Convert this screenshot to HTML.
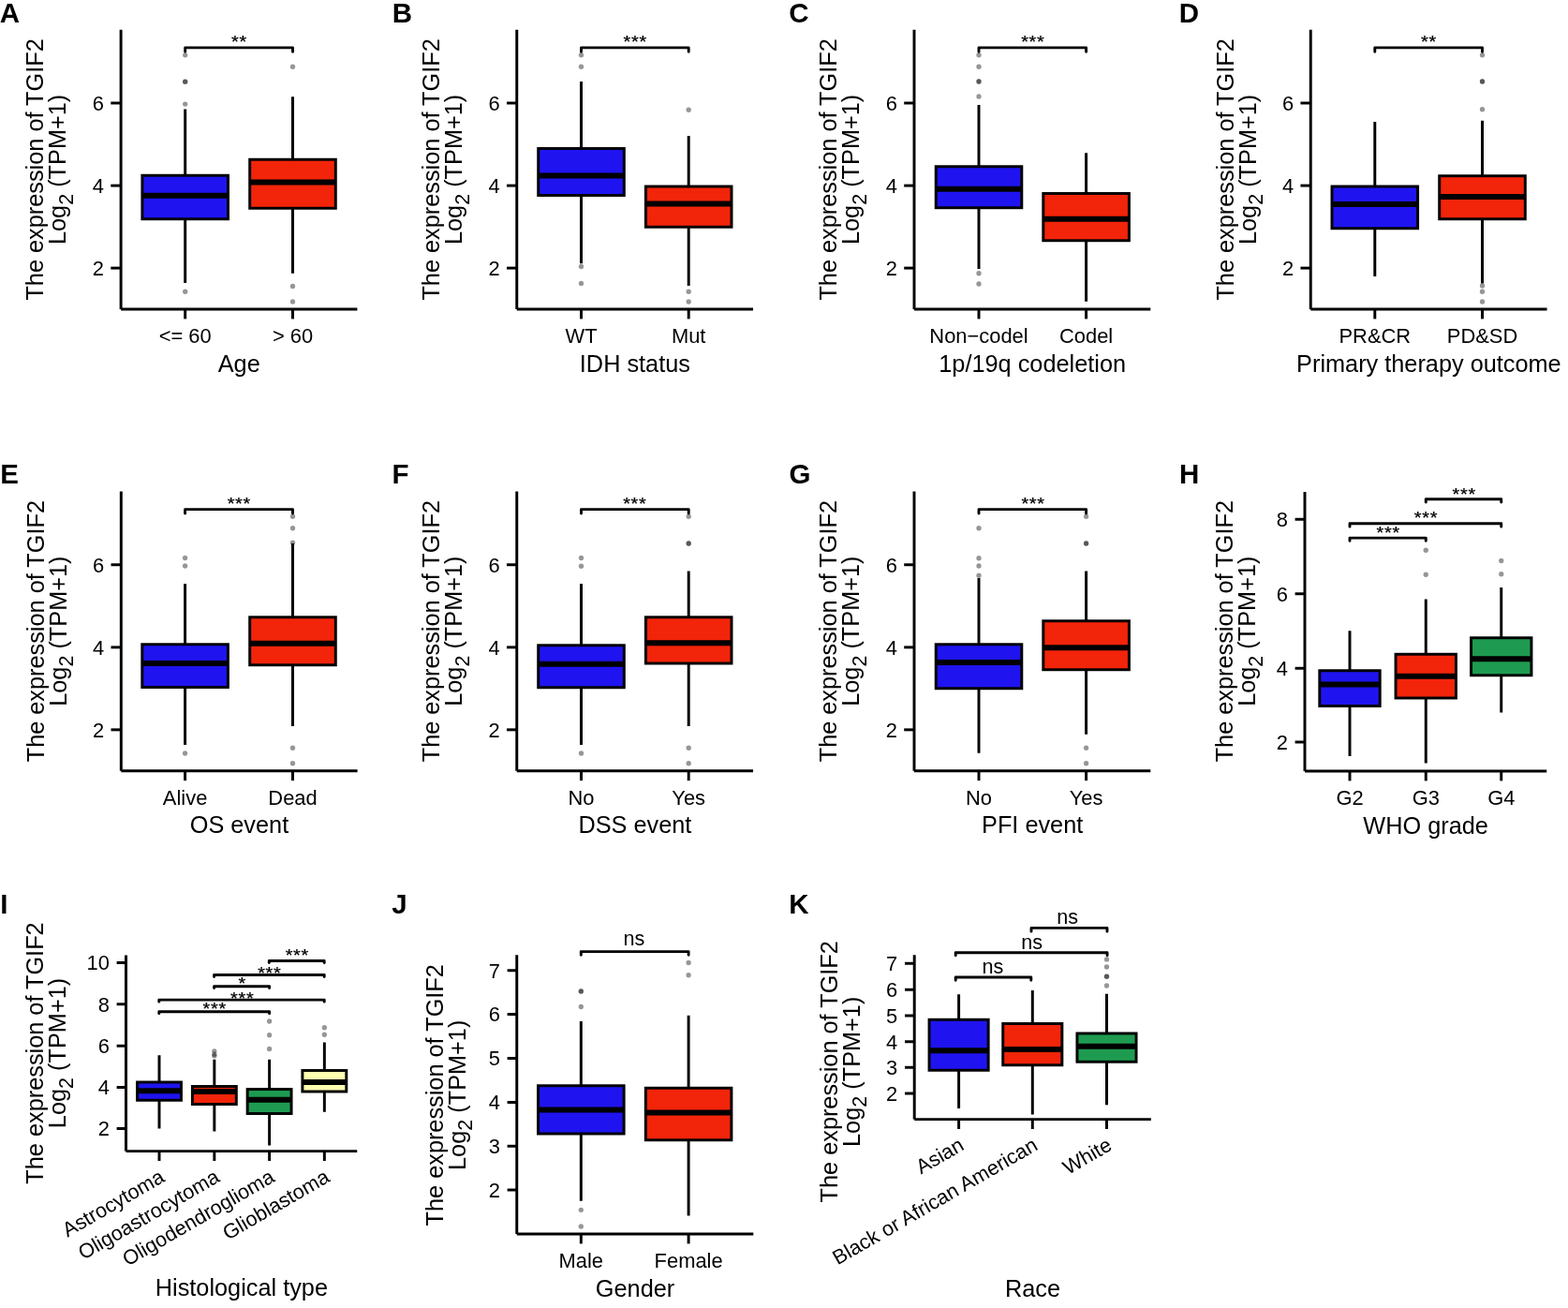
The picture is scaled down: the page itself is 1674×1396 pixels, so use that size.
<!DOCTYPE html>
<html><head><meta charset="utf-8"><title>TGIF2 expression boxplots</title>
<style>
html,body{margin:0;padding:0;background:#fff;}
body{width:1674px;height:1396px;overflow:hidden;}
svg{display:block;}
text{font-family:"Liberation Sans", Arial, Helvetica, sans-serif;fill:#000;}
</style></head>
<body>
<svg width="1674" height="1396" viewBox="0 0 1674 1396">
<rect x="0" y="0" width="1674" height="1396" fill="#fff"/>
<text x="-0.30" y="23.80" font-size="29.5" text-anchor="start" font-weight="bold">A</text>
<line x1="129.10" y1="31.75" x2="129.10" y2="330.00" stroke="#000" stroke-width="2.95" stroke-linecap="butt"/>
<line x1="129.10" y1="330.00" x2="381.40" y2="330.00" stroke="#000" stroke-width="2.95" stroke-linecap="butt"/>
<line x1="118.30" y1="110.00" x2="129.10" y2="110.00" stroke="#000" stroke-width="2.95" stroke-linecap="butt"/>
<text x="111.00" y="117.90" font-size="21.9" text-anchor="end">6</text>
<line x1="118.30" y1="198.10" x2="129.10" y2="198.10" stroke="#000" stroke-width="2.95" stroke-linecap="butt"/>
<text x="111.00" y="206.00" font-size="21.9" text-anchor="end">4</text>
<line x1="118.30" y1="286.10" x2="129.10" y2="286.10" stroke="#000" stroke-width="2.95" stroke-linecap="butt"/>
<text x="111.00" y="294.00" font-size="21.9" text-anchor="end">2</text>
<line x1="197.70" y1="330.00" x2="197.70" y2="340.40" stroke="#000" stroke-width="2.95" stroke-linecap="butt"/>
<line x1="312.50" y1="330.00" x2="312.50" y2="340.40" stroke="#000" stroke-width="2.95" stroke-linecap="butt"/>
<text x="197.70" y="366.00" font-size="21.9" text-anchor="middle">&lt;= 60</text>
<text x="312.50" y="366.00" font-size="21.9" text-anchor="middle">&gt; 60</text>
<text x="255.25" y="396.50" font-size="25.3" text-anchor="middle">Age</text>
<text transform="translate(46.40,180.93) rotate(-90)" x="0" y="0" font-size="25.3" text-anchor="middle">The expression of TGIF2</text>
<text transform="translate(70.35,180.93) rotate(-90)" x="0" y="0" font-size="25.3" text-anchor="middle">Log<tspan font-size="21.5" dy="7.5">2</tspan><tspan dy="-7.5"> (TPM+1)</tspan></text>
<line x1="197.70" y1="116.50" x2="197.70" y2="187.25" stroke="#000" stroke-width="2.95" stroke-linecap="butt"/>
<line x1="197.70" y1="233.75" x2="197.70" y2="302.00" stroke="#000" stroke-width="2.95" stroke-linecap="butt"/>
<rect x="151.90" y="187.25" width="91.60" height="46.50" fill="#1F14EF" stroke="#000" stroke-width="2.95"/>
<line x1="151.90" y1="208.75" x2="243.50" y2="208.75" stroke="#000" stroke-width="5.8" stroke-linecap="butt"/>
<circle cx="197.70" cy="58.80" r="2.65" fill="#000" fill-opacity="0.41"/>
<circle cx="197.70" cy="87.20" r="2.65" fill="#000" fill-opacity="0.41"/>
<circle cx="197.70" cy="87.20" r="2.65" fill="#000" fill-opacity="0.41"/>
<circle cx="197.70" cy="111.10" r="2.65" fill="#000" fill-opacity="0.41"/>
<circle cx="197.70" cy="311.25" r="2.65" fill="#000" fill-opacity="0.41"/>
<line x1="312.50" y1="103.25" x2="312.50" y2="170.25" stroke="#000" stroke-width="2.95" stroke-linecap="butt"/>
<line x1="312.50" y1="222.25" x2="312.50" y2="291.75" stroke="#000" stroke-width="2.95" stroke-linecap="butt"/>
<rect x="266.70" y="170.25" width="91.60" height="52.00" fill="#F2240A" stroke="#000" stroke-width="2.95"/>
<line x1="266.70" y1="194.50" x2="358.30" y2="194.50" stroke="#000" stroke-width="5.8" stroke-linecap="butt"/>
<circle cx="312.50" cy="71.25" r="2.65" fill="#000" fill-opacity="0.41"/>
<circle cx="312.50" cy="305.50" r="2.65" fill="#000" fill-opacity="0.41"/>
<circle cx="312.50" cy="322.00" r="2.65" fill="#000" fill-opacity="0.41"/>
<path d="M197.70,55.35 L197.70,50.90 L312.50,50.90 L312.50,55.35" fill="none" stroke="#000" stroke-width="2.9" stroke-linejoin="round" stroke-linecap="round"/>
<text x="0" y="11.04" font-size="20.0" text-anchor="middle" stroke="#000" stroke-width="0.25" stroke-linejoin="round" letter-spacing="0.7" transform="translate(255.45,41.60) scale(1,0.88)">**</text>
<text x="418.85" y="23.80" font-size="29.5" text-anchor="start" font-weight="bold">B</text>
<line x1="551.75" y1="31.75" x2="551.75" y2="330.00" stroke="#000" stroke-width="2.95" stroke-linecap="butt"/>
<line x1="551.75" y1="330.00" x2="804.05" y2="330.00" stroke="#000" stroke-width="2.95" stroke-linecap="butt"/>
<line x1="540.95" y1="110.00" x2="551.75" y2="110.00" stroke="#000" stroke-width="2.95" stroke-linecap="butt"/>
<text x="533.65" y="117.90" font-size="21.9" text-anchor="end">6</text>
<line x1="540.95" y1="198.10" x2="551.75" y2="198.10" stroke="#000" stroke-width="2.95" stroke-linecap="butt"/>
<text x="533.65" y="206.00" font-size="21.9" text-anchor="end">4</text>
<line x1="540.95" y1="286.10" x2="551.75" y2="286.10" stroke="#000" stroke-width="2.95" stroke-linecap="butt"/>
<text x="533.65" y="294.00" font-size="21.9" text-anchor="end">2</text>
<line x1="620.50" y1="330.00" x2="620.50" y2="340.40" stroke="#000" stroke-width="2.95" stroke-linecap="butt"/>
<line x1="735.20" y1="330.00" x2="735.20" y2="340.40" stroke="#000" stroke-width="2.95" stroke-linecap="butt"/>
<text x="620.50" y="366.00" font-size="21.9" text-anchor="middle">WT</text>
<text x="735.20" y="366.00" font-size="21.9" text-anchor="middle">Mut</text>
<text x="677.90" y="396.50" font-size="25.3" text-anchor="middle">IDH status</text>
<text transform="translate(469.05,180.93) rotate(-90)" x="0" y="0" font-size="25.3" text-anchor="middle">The expression of TGIF2</text>
<text transform="translate(493.00,180.93) rotate(-90)" x="0" y="0" font-size="25.3" text-anchor="middle">Log<tspan font-size="21.5" dy="7.5">2</tspan><tspan dy="-7.5"> (TPM+1)</tspan></text>
<line x1="620.50" y1="87.00" x2="620.50" y2="158.50" stroke="#000" stroke-width="2.95" stroke-linecap="butt"/>
<line x1="620.50" y1="208.50" x2="620.50" y2="281.25" stroke="#000" stroke-width="2.95" stroke-linecap="butt"/>
<rect x="574.70" y="158.50" width="91.60" height="50.00" fill="#1F14EF" stroke="#000" stroke-width="2.95"/>
<line x1="574.70" y1="187.50" x2="666.30" y2="187.50" stroke="#000" stroke-width="5.8" stroke-linecap="butt"/>
<circle cx="620.50" cy="58.75" r="2.65" fill="#000" fill-opacity="0.41"/>
<circle cx="620.50" cy="71.25" r="2.65" fill="#000" fill-opacity="0.41"/>
<circle cx="620.50" cy="284.50" r="2.65" fill="#000" fill-opacity="0.41"/>
<circle cx="620.50" cy="302.50" r="2.65" fill="#000" fill-opacity="0.41"/>
<line x1="735.20" y1="145.00" x2="735.20" y2="199.00" stroke="#000" stroke-width="2.95" stroke-linecap="butt"/>
<line x1="735.20" y1="242.25" x2="735.20" y2="305.00" stroke="#000" stroke-width="2.95" stroke-linecap="butt"/>
<rect x="689.40" y="199.00" width="91.60" height="43.25" fill="#F2240A" stroke="#000" stroke-width="2.95"/>
<line x1="689.40" y1="217.50" x2="781.00" y2="217.50" stroke="#000" stroke-width="5.8" stroke-linecap="butt"/>
<circle cx="735.20" cy="117.25" r="2.65" fill="#000" fill-opacity="0.41"/>
<circle cx="735.20" cy="311.25" r="2.65" fill="#000" fill-opacity="0.41"/>
<circle cx="735.20" cy="322.00" r="2.65" fill="#000" fill-opacity="0.41"/>
<path d="M620.50,55.35 L620.50,50.90 L735.20,50.90 L735.20,55.35" fill="none" stroke="#000" stroke-width="2.9" stroke-linejoin="round" stroke-linecap="round"/>
<text x="0" y="11.04" font-size="20.0" text-anchor="middle" stroke="#000" stroke-width="0.25" stroke-linejoin="round" letter-spacing="0.7" transform="translate(678.15,41.60) scale(1,0.88)">***</text>
<text x="842.35" y="23.80" font-size="29.5" text-anchor="start" font-weight="bold">C</text>
<line x1="976.00" y1="31.75" x2="976.00" y2="330.00" stroke="#000" stroke-width="2.95" stroke-linecap="butt"/>
<line x1="976.00" y1="330.00" x2="1228.30" y2="330.00" stroke="#000" stroke-width="2.95" stroke-linecap="butt"/>
<line x1="965.20" y1="110.00" x2="976.00" y2="110.00" stroke="#000" stroke-width="2.95" stroke-linecap="butt"/>
<text x="957.90" y="117.90" font-size="21.9" text-anchor="end">6</text>
<line x1="965.20" y1="198.10" x2="976.00" y2="198.10" stroke="#000" stroke-width="2.95" stroke-linecap="butt"/>
<text x="957.90" y="206.00" font-size="21.9" text-anchor="end">4</text>
<line x1="965.20" y1="286.10" x2="976.00" y2="286.10" stroke="#000" stroke-width="2.95" stroke-linecap="butt"/>
<text x="957.90" y="294.00" font-size="21.9" text-anchor="end">2</text>
<line x1="1045.00" y1="330.00" x2="1045.00" y2="340.40" stroke="#000" stroke-width="2.95" stroke-linecap="butt"/>
<line x1="1159.60" y1="330.00" x2="1159.60" y2="340.40" stroke="#000" stroke-width="2.95" stroke-linecap="butt"/>
<text x="1045.00" y="366.00" font-size="21.9" text-anchor="middle">Non−codel</text>
<text x="1159.60" y="366.00" font-size="21.9" text-anchor="middle">Codel</text>
<text x="1102.15" y="396.50" font-size="25.3" text-anchor="middle">1p/19q codeletion</text>
<text transform="translate(893.30,180.93) rotate(-90)" x="0" y="0" font-size="25.3" text-anchor="middle">The expression of TGIF2</text>
<text transform="translate(917.25,180.93) rotate(-90)" x="0" y="0" font-size="25.3" text-anchor="middle">Log<tspan font-size="21.5" dy="7.5">2</tspan><tspan dy="-7.5"> (TPM+1)</tspan></text>
<line x1="1045.00" y1="112.00" x2="1045.00" y2="177.75" stroke="#000" stroke-width="2.95" stroke-linecap="butt"/>
<line x1="1045.00" y1="221.75" x2="1045.00" y2="287.00" stroke="#000" stroke-width="2.95" stroke-linecap="butt"/>
<rect x="999.20" y="177.75" width="91.60" height="44.00" fill="#1F14EF" stroke="#000" stroke-width="2.95"/>
<line x1="999.20" y1="201.75" x2="1090.80" y2="201.75" stroke="#000" stroke-width="5.8" stroke-linecap="butt"/>
<circle cx="1045.00" cy="58.75" r="2.65" fill="#000" fill-opacity="0.41"/>
<circle cx="1045.00" cy="71.25" r="2.65" fill="#000" fill-opacity="0.41"/>
<circle cx="1045.00" cy="87.00" r="2.65" fill="#000" fill-opacity="0.41"/>
<circle cx="1045.00" cy="87.00" r="2.65" fill="#000" fill-opacity="0.41"/>
<circle cx="1045.00" cy="103.00" r="2.65" fill="#000" fill-opacity="0.41"/>
<circle cx="1045.00" cy="291.75" r="2.65" fill="#000" fill-opacity="0.41"/>
<circle cx="1045.00" cy="303.00" r="2.65" fill="#000" fill-opacity="0.41"/>
<line x1="1159.60" y1="163.25" x2="1159.60" y2="206.50" stroke="#000" stroke-width="2.95" stroke-linecap="butt"/>
<line x1="1159.60" y1="256.75" x2="1159.60" y2="321.75" stroke="#000" stroke-width="2.95" stroke-linecap="butt"/>
<rect x="1113.80" y="206.50" width="91.60" height="50.25" fill="#F2240A" stroke="#000" stroke-width="2.95"/>
<line x1="1113.80" y1="233.75" x2="1205.40" y2="233.75" stroke="#000" stroke-width="5.8" stroke-linecap="butt"/>
<path d="M1045.00,55.35 L1045.00,50.90 L1159.60,50.90 L1159.60,55.35" fill="none" stroke="#000" stroke-width="2.9" stroke-linejoin="round" stroke-linecap="round"/>
<text x="0" y="11.04" font-size="20.0" text-anchor="middle" stroke="#000" stroke-width="0.25" stroke-linejoin="round" letter-spacing="0.7" transform="translate(1102.85,41.60) scale(1,0.88)">***</text>
<text x="1258.80" y="23.80" font-size="29.5" text-anchor="start" font-weight="bold">D</text>
<line x1="1399.25" y1="31.75" x2="1399.25" y2="330.00" stroke="#000" stroke-width="2.95" stroke-linecap="butt"/>
<line x1="1399.25" y1="330.00" x2="1651.55" y2="330.00" stroke="#000" stroke-width="2.95" stroke-linecap="butt"/>
<line x1="1388.45" y1="110.00" x2="1399.25" y2="110.00" stroke="#000" stroke-width="2.95" stroke-linecap="butt"/>
<text x="1381.15" y="117.90" font-size="21.9" text-anchor="end">6</text>
<line x1="1388.45" y1="198.10" x2="1399.25" y2="198.10" stroke="#000" stroke-width="2.95" stroke-linecap="butt"/>
<text x="1381.15" y="206.00" font-size="21.9" text-anchor="end">4</text>
<line x1="1388.45" y1="286.10" x2="1399.25" y2="286.10" stroke="#000" stroke-width="2.95" stroke-linecap="butt"/>
<text x="1381.15" y="294.00" font-size="21.9" text-anchor="end">2</text>
<line x1="1467.80" y1="330.00" x2="1467.80" y2="340.40" stroke="#000" stroke-width="2.95" stroke-linecap="butt"/>
<line x1="1582.50" y1="330.00" x2="1582.50" y2="340.40" stroke="#000" stroke-width="2.95" stroke-linecap="butt"/>
<text x="1467.80" y="366.00" font-size="21.9" text-anchor="middle">PR&amp;CR</text>
<text x="1582.50" y="366.00" font-size="21.9" text-anchor="middle">PD&amp;SD</text>
<text x="1525.40" y="396.50" font-size="25.3" text-anchor="middle">Primary therapy outcome</text>
<text transform="translate(1316.55,180.93) rotate(-90)" x="0" y="0" font-size="25.3" text-anchor="middle">The expression of TGIF2</text>
<text transform="translate(1340.50,180.93) rotate(-90)" x="0" y="0" font-size="25.3" text-anchor="middle">Log<tspan font-size="21.5" dy="7.5">2</tspan><tspan dy="-7.5"> (TPM+1)</tspan></text>
<line x1="1467.80" y1="130.00" x2="1467.80" y2="199.00" stroke="#000" stroke-width="2.95" stroke-linecap="butt"/>
<line x1="1467.80" y1="243.75" x2="1467.80" y2="295.00" stroke="#000" stroke-width="2.95" stroke-linecap="butt"/>
<rect x="1422.00" y="199.00" width="91.60" height="44.75" fill="#1F14EF" stroke="#000" stroke-width="2.95"/>
<line x1="1422.00" y1="218.00" x2="1513.60" y2="218.00" stroke="#000" stroke-width="5.8" stroke-linecap="butt"/>
<line x1="1582.50" y1="128.75" x2="1582.50" y2="187.75" stroke="#000" stroke-width="2.95" stroke-linecap="butt"/>
<line x1="1582.50" y1="233.75" x2="1582.50" y2="302.50" stroke="#000" stroke-width="2.95" stroke-linecap="butt"/>
<rect x="1536.70" y="187.75" width="91.60" height="46.00" fill="#F2240A" stroke="#000" stroke-width="2.95"/>
<line x1="1536.70" y1="210.00" x2="1628.30" y2="210.00" stroke="#000" stroke-width="5.8" stroke-linecap="butt"/>
<circle cx="1582.50" cy="58.75" r="2.65" fill="#000" fill-opacity="0.41"/>
<circle cx="1582.50" cy="87.00" r="2.65" fill="#000" fill-opacity="0.41"/>
<circle cx="1582.50" cy="87.00" r="2.65" fill="#000" fill-opacity="0.41"/>
<circle cx="1582.50" cy="116.75" r="2.65" fill="#000" fill-opacity="0.41"/>
<circle cx="1582.50" cy="305.00" r="2.65" fill="#000" fill-opacity="0.41"/>
<circle cx="1582.50" cy="311.25" r="2.65" fill="#000" fill-opacity="0.41"/>
<circle cx="1582.50" cy="322.00" r="2.65" fill="#000" fill-opacity="0.41"/>
<path d="M1467.80,55.35 L1467.80,50.90 L1582.50,50.90 L1582.50,55.35" fill="none" stroke="#000" stroke-width="2.9" stroke-linejoin="round" stroke-linecap="round"/>
<text x="0" y="11.04" font-size="20.0" text-anchor="middle" stroke="#000" stroke-width="0.25" stroke-linejoin="round" letter-spacing="0.7" transform="translate(1525.45,41.60) scale(1,0.88)">**</text>
<text x="0.25" y="515.65" font-size="29.5" text-anchor="start" font-weight="bold">E</text>
<line x1="129.30" y1="524.50" x2="129.30" y2="822.75" stroke="#000" stroke-width="2.95" stroke-linecap="butt"/>
<line x1="129.30" y1="822.75" x2="381.60" y2="822.75" stroke="#000" stroke-width="2.95" stroke-linecap="butt"/>
<line x1="118.50" y1="602.75" x2="129.30" y2="602.75" stroke="#000" stroke-width="2.95" stroke-linecap="butt"/>
<text x="111.20" y="610.65" font-size="21.9" text-anchor="end">6</text>
<line x1="118.50" y1="690.85" x2="129.30" y2="690.85" stroke="#000" stroke-width="2.95" stroke-linecap="butt"/>
<text x="111.20" y="698.75" font-size="21.9" text-anchor="end">4</text>
<line x1="118.50" y1="778.85" x2="129.30" y2="778.85" stroke="#000" stroke-width="2.95" stroke-linecap="butt"/>
<text x="111.20" y="786.75" font-size="21.9" text-anchor="end">2</text>
<line x1="197.60" y1="822.75" x2="197.60" y2="833.15" stroke="#000" stroke-width="2.95" stroke-linecap="butt"/>
<line x1="312.50" y1="822.75" x2="312.50" y2="833.15" stroke="#000" stroke-width="2.95" stroke-linecap="butt"/>
<text x="197.60" y="858.75" font-size="21.9" text-anchor="middle">Alive</text>
<text x="312.50" y="858.75" font-size="21.9" text-anchor="middle">Dead</text>
<text x="255.45" y="889.25" font-size="25.3" text-anchor="middle">OS event</text>
<text transform="translate(46.60,673.67) rotate(-90)" x="0" y="0" font-size="25.3" text-anchor="middle">The expression of TGIF2</text>
<text transform="translate(70.55,673.67) rotate(-90)" x="0" y="0" font-size="25.3" text-anchor="middle">Log<tspan font-size="21.5" dy="7.5">2</tspan><tspan dy="-7.5"> (TPM+1)</tspan></text>
<line x1="197.60" y1="623.00" x2="197.60" y2="687.75" stroke="#000" stroke-width="2.95" stroke-linecap="butt"/>
<line x1="197.60" y1="733.50" x2="197.60" y2="795.00" stroke="#000" stroke-width="2.95" stroke-linecap="butt"/>
<rect x="151.80" y="687.75" width="91.60" height="45.75" fill="#1F14EF" stroke="#000" stroke-width="2.95"/>
<line x1="151.80" y1="708.00" x2="243.40" y2="708.00" stroke="#000" stroke-width="5.8" stroke-linecap="butt"/>
<circle cx="197.60" cy="595.50" r="2.65" fill="#000" fill-opacity="0.41"/>
<circle cx="197.60" cy="604.00" r="2.65" fill="#000" fill-opacity="0.41"/>
<circle cx="197.60" cy="804.00" r="2.65" fill="#000" fill-opacity="0.41"/>
<line x1="312.50" y1="580.00" x2="312.50" y2="658.75" stroke="#000" stroke-width="2.95" stroke-linecap="butt"/>
<line x1="312.50" y1="709.75" x2="312.50" y2="775.00" stroke="#000" stroke-width="2.95" stroke-linecap="butt"/>
<rect x="266.70" y="658.75" width="91.60" height="51.00" fill="#F2240A" stroke="#000" stroke-width="2.95"/>
<line x1="266.70" y1="686.75" x2="358.30" y2="686.75" stroke="#000" stroke-width="5.8" stroke-linecap="butt"/>
<circle cx="312.50" cy="551.25" r="2.65" fill="#000" fill-opacity="0.41"/>
<circle cx="312.50" cy="563.75" r="2.65" fill="#000" fill-opacity="0.41"/>
<circle cx="312.50" cy="579.25" r="2.65" fill="#000" fill-opacity="0.41"/>
<circle cx="312.50" cy="798.25" r="2.65" fill="#000" fill-opacity="0.41"/>
<circle cx="312.50" cy="814.75" r="2.65" fill="#000" fill-opacity="0.41"/>
<path d="M197.60,548.10 L197.60,543.65 L312.50,543.65 L312.50,548.10" fill="none" stroke="#000" stroke-width="2.9" stroke-linejoin="round" stroke-linecap="round"/>
<text x="0" y="11.04" font-size="20.0" text-anchor="middle" stroke="#000" stroke-width="0.25" stroke-linejoin="round" letter-spacing="0.7" transform="translate(255.35,534.35) scale(1,0.88)">***</text>
<text x="418.60" y="515.65" font-size="29.5" text-anchor="start" font-weight="bold">F</text>
<line x1="551.75" y1="524.50" x2="551.75" y2="822.75" stroke="#000" stroke-width="2.95" stroke-linecap="butt"/>
<line x1="551.75" y1="822.75" x2="804.05" y2="822.75" stroke="#000" stroke-width="2.95" stroke-linecap="butt"/>
<line x1="540.95" y1="602.75" x2="551.75" y2="602.75" stroke="#000" stroke-width="2.95" stroke-linecap="butt"/>
<text x="533.65" y="610.65" font-size="21.9" text-anchor="end">6</text>
<line x1="540.95" y1="690.85" x2="551.75" y2="690.85" stroke="#000" stroke-width="2.95" stroke-linecap="butt"/>
<text x="533.65" y="698.75" font-size="21.9" text-anchor="end">4</text>
<line x1="540.95" y1="778.85" x2="551.75" y2="778.85" stroke="#000" stroke-width="2.95" stroke-linecap="butt"/>
<text x="533.65" y="786.75" font-size="21.9" text-anchor="end">2</text>
<line x1="620.50" y1="822.75" x2="620.50" y2="833.15" stroke="#000" stroke-width="2.95" stroke-linecap="butt"/>
<line x1="735.20" y1="822.75" x2="735.20" y2="833.15" stroke="#000" stroke-width="2.95" stroke-linecap="butt"/>
<text x="620.50" y="858.75" font-size="21.9" text-anchor="middle">No</text>
<text x="735.20" y="858.75" font-size="21.9" text-anchor="middle">Yes</text>
<text x="677.90" y="889.25" font-size="25.3" text-anchor="middle">DSS event</text>
<text transform="translate(469.05,673.67) rotate(-90)" x="0" y="0" font-size="25.3" text-anchor="middle">The expression of TGIF2</text>
<text transform="translate(493.00,673.67) rotate(-90)" x="0" y="0" font-size="25.3" text-anchor="middle">Log<tspan font-size="21.5" dy="7.5">2</tspan><tspan dy="-7.5"> (TPM+1)</tspan></text>
<line x1="620.50" y1="623.00" x2="620.50" y2="688.75" stroke="#000" stroke-width="2.95" stroke-linecap="butt"/>
<line x1="620.50" y1="733.75" x2="620.50" y2="795.00" stroke="#000" stroke-width="2.95" stroke-linecap="butt"/>
<rect x="574.70" y="688.75" width="91.60" height="45.00" fill="#1F14EF" stroke="#000" stroke-width="2.95"/>
<line x1="574.70" y1="708.75" x2="666.30" y2="708.75" stroke="#000" stroke-width="5.8" stroke-linecap="butt"/>
<circle cx="620.50" cy="595.50" r="2.65" fill="#000" fill-opacity="0.41"/>
<circle cx="620.50" cy="604.25" r="2.65" fill="#000" fill-opacity="0.41"/>
<circle cx="620.50" cy="804.00" r="2.65" fill="#000" fill-opacity="0.41"/>
<line x1="735.20" y1="609.50" x2="735.20" y2="658.75" stroke="#000" stroke-width="2.95" stroke-linecap="butt"/>
<line x1="735.20" y1="708.00" x2="735.20" y2="775.00" stroke="#000" stroke-width="2.95" stroke-linecap="butt"/>
<rect x="689.40" y="658.75" width="91.60" height="49.25" fill="#F2240A" stroke="#000" stroke-width="2.95"/>
<line x1="689.40" y1="686.25" x2="781.00" y2="686.25" stroke="#000" stroke-width="5.8" stroke-linecap="butt"/>
<circle cx="735.20" cy="551.25" r="2.65" fill="#000" fill-opacity="0.41"/>
<circle cx="735.20" cy="580.00" r="2.65" fill="#000" fill-opacity="0.41"/>
<circle cx="735.20" cy="580.00" r="2.65" fill="#000" fill-opacity="0.41"/>
<circle cx="735.20" cy="798.25" r="2.65" fill="#000" fill-opacity="0.41"/>
<circle cx="735.20" cy="814.75" r="2.65" fill="#000" fill-opacity="0.41"/>
<path d="M620.50,548.10 L620.50,543.65 L735.20,543.65 L735.20,548.10" fill="none" stroke="#000" stroke-width="2.9" stroke-linejoin="round" stroke-linecap="round"/>
<text x="0" y="11.04" font-size="20.0" text-anchor="middle" stroke="#000" stroke-width="0.25" stroke-linejoin="round" letter-spacing="0.7" transform="translate(677.85,534.35) scale(1,0.88)">***</text>
<text x="842.40" y="515.65" font-size="29.5" text-anchor="start" font-weight="bold">G</text>
<line x1="976.00" y1="524.50" x2="976.00" y2="822.75" stroke="#000" stroke-width="2.95" stroke-linecap="butt"/>
<line x1="976.00" y1="822.75" x2="1228.30" y2="822.75" stroke="#000" stroke-width="2.95" stroke-linecap="butt"/>
<line x1="965.20" y1="602.75" x2="976.00" y2="602.75" stroke="#000" stroke-width="2.95" stroke-linecap="butt"/>
<text x="957.90" y="610.65" font-size="21.9" text-anchor="end">6</text>
<line x1="965.20" y1="690.85" x2="976.00" y2="690.85" stroke="#000" stroke-width="2.95" stroke-linecap="butt"/>
<text x="957.90" y="698.75" font-size="21.9" text-anchor="end">4</text>
<line x1="965.20" y1="778.85" x2="976.00" y2="778.85" stroke="#000" stroke-width="2.95" stroke-linecap="butt"/>
<text x="957.90" y="786.75" font-size="21.9" text-anchor="end">2</text>
<line x1="1045.00" y1="822.75" x2="1045.00" y2="833.15" stroke="#000" stroke-width="2.95" stroke-linecap="butt"/>
<line x1="1159.60" y1="822.75" x2="1159.60" y2="833.15" stroke="#000" stroke-width="2.95" stroke-linecap="butt"/>
<text x="1045.00" y="858.75" font-size="21.9" text-anchor="middle">No</text>
<text x="1159.60" y="858.75" font-size="21.9" text-anchor="middle">Yes</text>
<text x="1102.15" y="889.25" font-size="25.3" text-anchor="middle">PFI event</text>
<text transform="translate(893.30,673.67) rotate(-90)" x="0" y="0" font-size="25.3" text-anchor="middle">The expression of TGIF2</text>
<text transform="translate(917.25,673.67) rotate(-90)" x="0" y="0" font-size="25.3" text-anchor="middle">Log<tspan font-size="21.5" dy="7.5">2</tspan><tspan dy="-7.5"> (TPM+1)</tspan></text>
<line x1="1045.00" y1="617.00" x2="1045.00" y2="687.75" stroke="#000" stroke-width="2.95" stroke-linecap="butt"/>
<line x1="1045.00" y1="734.75" x2="1045.00" y2="803.75" stroke="#000" stroke-width="2.95" stroke-linecap="butt"/>
<rect x="999.20" y="687.75" width="91.60" height="47.00" fill="#1F14EF" stroke="#000" stroke-width="2.95"/>
<line x1="999.20" y1="707.00" x2="1090.80" y2="707.00" stroke="#000" stroke-width="5.8" stroke-linecap="butt"/>
<circle cx="1045.00" cy="563.75" r="2.65" fill="#000" fill-opacity="0.41"/>
<circle cx="1045.00" cy="595.75" r="2.65" fill="#000" fill-opacity="0.41"/>
<circle cx="1045.00" cy="604.00" r="2.65" fill="#000" fill-opacity="0.41"/>
<circle cx="1045.00" cy="614.25" r="2.65" fill="#000" fill-opacity="0.41"/>
<line x1="1159.60" y1="609.50" x2="1159.60" y2="662.75" stroke="#000" stroke-width="2.95" stroke-linecap="butt"/>
<line x1="1159.60" y1="714.75" x2="1159.60" y2="783.75" stroke="#000" stroke-width="2.95" stroke-linecap="butt"/>
<rect x="1113.80" y="662.75" width="91.60" height="52.00" fill="#F2240A" stroke="#000" stroke-width="2.95"/>
<line x1="1113.80" y1="691.25" x2="1205.40" y2="691.25" stroke="#000" stroke-width="5.8" stroke-linecap="butt"/>
<circle cx="1159.60" cy="551.25" r="2.65" fill="#000" fill-opacity="0.41"/>
<circle cx="1159.60" cy="580.00" r="2.65" fill="#000" fill-opacity="0.41"/>
<circle cx="1159.60" cy="580.00" r="2.65" fill="#000" fill-opacity="0.41"/>
<circle cx="1159.60" cy="798.25" r="2.65" fill="#000" fill-opacity="0.41"/>
<circle cx="1159.60" cy="814.75" r="2.65" fill="#000" fill-opacity="0.41"/>
<path d="M1045.00,548.10 L1045.00,543.65 L1159.60,543.65 L1159.60,548.10" fill="none" stroke="#000" stroke-width="2.9" stroke-linejoin="round" stroke-linecap="round"/>
<text x="0" y="11.04" font-size="20.0" text-anchor="middle" stroke="#000" stroke-width="0.25" stroke-linejoin="round" letter-spacing="0.7" transform="translate(1103.10,534.35) scale(1,0.88)">***</text>
<text x="1259.00" y="515.65" font-size="29.5" text-anchor="start" font-weight="bold">H</text>
<line x1="1393.00" y1="525.00" x2="1393.00" y2="823.00" stroke="#000" stroke-width="2.95" stroke-linecap="butt"/>
<line x1="1393.00" y1="823.00" x2="1651.25" y2="823.00" stroke="#000" stroke-width="2.95" stroke-linecap="butt"/>
<line x1="1382.60" y1="554.25" x2="1393.00" y2="554.25" stroke="#000" stroke-width="2.95" stroke-linecap="butt"/>
<text x="1374.90" y="562.15" font-size="21.9" text-anchor="end">8</text>
<line x1="1382.60" y1="633.75" x2="1393.00" y2="633.75" stroke="#000" stroke-width="2.95" stroke-linecap="butt"/>
<text x="1374.90" y="641.65" font-size="21.9" text-anchor="end">6</text>
<line x1="1382.60" y1="713.25" x2="1393.00" y2="713.25" stroke="#000" stroke-width="2.95" stroke-linecap="butt"/>
<text x="1374.90" y="721.15" font-size="21.9" text-anchor="end">4</text>
<line x1="1382.60" y1="792.00" x2="1393.00" y2="792.00" stroke="#000" stroke-width="2.95" stroke-linecap="butt"/>
<text x="1374.90" y="799.90" font-size="21.9" text-anchor="end">2</text>
<line x1="1441.00" y1="823.00" x2="1441.00" y2="833.40" stroke="#000" stroke-width="2.95" stroke-linecap="butt"/>
<line x1="1522.25" y1="823.00" x2="1522.25" y2="833.40" stroke="#000" stroke-width="2.95" stroke-linecap="butt"/>
<line x1="1602.75" y1="823.00" x2="1602.75" y2="833.40" stroke="#000" stroke-width="2.95" stroke-linecap="butt"/>
<text x="1441.00" y="859.00" font-size="21.9" text-anchor="middle">G2</text>
<text x="1522.25" y="859.00" font-size="21.9" text-anchor="middle">G3</text>
<text x="1602.75" y="859.00" font-size="21.9" text-anchor="middle">G4</text>
<text x="1522.12" y="889.50" font-size="25.3" text-anchor="middle">WHO grade</text>
<text transform="translate(1316.40,673.70) rotate(-90)" x="0" y="0" font-size="25.3" text-anchor="middle">The expression of TGIF2</text>
<text transform="translate(1340.35,673.70) rotate(-90)" x="0" y="0" font-size="25.3" text-anchor="middle">Log<tspan font-size="21.5" dy="7.5">2</tspan><tspan dy="-7.5"> (TPM+1)</tspan></text>
<line x1="1441.00" y1="673.25" x2="1441.00" y2="715.75" stroke="#000" stroke-width="2.95" stroke-linecap="butt"/>
<line x1="1441.00" y1="753.50" x2="1441.00" y2="807.00" stroke="#000" stroke-width="2.95" stroke-linecap="butt"/>
<rect x="1408.80" y="715.75" width="64.40" height="37.75" fill="#1F14EF" stroke="#000" stroke-width="2.95"/>
<line x1="1408.80" y1="730.50" x2="1473.20" y2="730.50" stroke="#000" stroke-width="5.8" stroke-linecap="butt"/>
<line x1="1522.25" y1="639.50" x2="1522.25" y2="698.25" stroke="#000" stroke-width="2.95" stroke-linecap="butt"/>
<line x1="1522.25" y1="745.00" x2="1522.25" y2="814.50" stroke="#000" stroke-width="2.95" stroke-linecap="butt"/>
<rect x="1490.05" y="698.25" width="64.40" height="46.75" fill="#F2240A" stroke="#000" stroke-width="2.95"/>
<line x1="1490.05" y1="721.75" x2="1554.45" y2="721.75" stroke="#000" stroke-width="5.8" stroke-linecap="butt"/>
<circle cx="1522.25" cy="587.25" r="2.65" fill="#000" fill-opacity="0.41"/>
<circle cx="1522.25" cy="613.25" r="2.65" fill="#000" fill-opacity="0.41"/>
<line x1="1602.75" y1="627.00" x2="1602.75" y2="680.75" stroke="#000" stroke-width="2.95" stroke-linecap="butt"/>
<line x1="1602.75" y1="720.75" x2="1602.75" y2="760.50" stroke="#000" stroke-width="2.95" stroke-linecap="butt"/>
<rect x="1570.55" y="680.75" width="64.40" height="40.00" fill="#1E9B50" stroke="#000" stroke-width="2.95"/>
<line x1="1570.55" y1="703.25" x2="1634.95" y2="703.25" stroke="#000" stroke-width="5.8" stroke-linecap="butt"/>
<circle cx="1602.75" cy="598.50" r="2.65" fill="#000" fill-opacity="0.41"/>
<circle cx="1602.75" cy="612.75" r="2.65" fill="#000" fill-opacity="0.41"/>
<path d="M1522.25,536.05 L1522.25,532.70 L1602.75,532.70 L1602.75,536.05" fill="none" stroke="#000" stroke-width="2.9" stroke-linejoin="round" stroke-linecap="round"/>
<text x="0" y="11.04" font-size="20.0" text-anchor="middle" stroke="#000" stroke-width="0.25" stroke-linejoin="round" letter-spacing="0.7" transform="translate(1563.15,523.80) scale(1,0.88)">***</text>
<path d="M1441.00,562.15 L1441.00,558.80 L1602.75,558.80 L1602.75,562.15" fill="none" stroke="#000" stroke-width="2.9" stroke-linejoin="round" stroke-linecap="round"/>
<text x="0" y="11.04" font-size="20.0" text-anchor="middle" stroke="#000" stroke-width="0.25" stroke-linejoin="round" letter-spacing="0.7" transform="translate(1522.55,549.70) scale(1,0.88)">***</text>
<path d="M1441.00,577.35 L1441.00,574.10 L1522.25,574.10 L1522.25,577.35" fill="none" stroke="#000" stroke-width="2.9" stroke-linejoin="round" stroke-linecap="round"/>
<text x="0" y="11.04" font-size="20.0" text-anchor="middle" stroke="#000" stroke-width="0.25" stroke-linejoin="round" letter-spacing="0.7" transform="translate(1482.25,565.20) scale(1,0.88)">***</text>
<text x="0.20" y="975.40" font-size="29.5" text-anchor="start" font-weight="bold">I</text>
<line x1="134.50" y1="1019.50" x2="134.50" y2="1228.60" stroke="#000" stroke-width="2.95" stroke-linecap="butt"/>
<line x1="134.50" y1="1228.60" x2="381.25" y2="1228.60" stroke="#000" stroke-width="2.95" stroke-linecap="butt"/>
<line x1="124.60" y1="1027.50" x2="134.50" y2="1027.50" stroke="#000" stroke-width="2.95" stroke-linecap="butt"/>
<text x="116.90" y="1035.40" font-size="21.9" text-anchor="end">10</text>
<line x1="124.60" y1="1071.75" x2="134.50" y2="1071.75" stroke="#000" stroke-width="2.95" stroke-linecap="butt"/>
<text x="116.90" y="1079.65" font-size="21.9" text-anchor="end">8</text>
<line x1="124.60" y1="1116.25" x2="134.50" y2="1116.25" stroke="#000" stroke-width="2.95" stroke-linecap="butt"/>
<text x="116.90" y="1124.15" font-size="21.9" text-anchor="end">6</text>
<line x1="124.60" y1="1160.50" x2="134.50" y2="1160.50" stroke="#000" stroke-width="2.95" stroke-linecap="butt"/>
<text x="116.90" y="1168.40" font-size="21.9" text-anchor="end">4</text>
<line x1="124.60" y1="1204.50" x2="134.50" y2="1204.50" stroke="#000" stroke-width="2.95" stroke-linecap="butt"/>
<text x="116.90" y="1212.40" font-size="21.9" text-anchor="end">2</text>
<line x1="170.00" y1="1228.60" x2="170.00" y2="1239.00" stroke="#000" stroke-width="2.95" stroke-linecap="butt"/>
<line x1="228.85" y1="1228.60" x2="228.85" y2="1239.00" stroke="#000" stroke-width="2.95" stroke-linecap="butt"/>
<line x1="287.60" y1="1228.60" x2="287.60" y2="1239.00" stroke="#000" stroke-width="2.95" stroke-linecap="butt"/>
<line x1="346.35" y1="1228.60" x2="346.35" y2="1239.00" stroke="#000" stroke-width="2.95" stroke-linecap="butt"/>
<text x="0.00" y="0.00" font-size="21.8" text-anchor="end" transform="translate(177.00,1260.30) rotate(-30)">Astrocytoma</text>
<text x="0.00" y="0.00" font-size="21.8" text-anchor="end" transform="translate(235.85,1260.30) rotate(-30)">Oligoastrocytoma</text>
<text x="0.00" y="0.00" font-size="21.8" text-anchor="end" transform="translate(294.60,1260.30) rotate(-30)">Oligodendroglioma</text>
<text x="0.00" y="0.00" font-size="21.8" text-anchor="end" transform="translate(353.35,1260.30) rotate(-30)">Glioblastoma</text>
<text x="257.90" y="1383.35" font-size="25.3" text-anchor="middle">Histological type</text>
<text transform="translate(46.35,1124.00) rotate(-90)" x="0" y="0" font-size="25.3" text-anchor="middle">The expression of TGIF2</text>
<text transform="translate(70.30,1124.00) rotate(-90)" x="0" y="0" font-size="25.3" text-anchor="middle">Log<tspan font-size="21.5" dy="7.5">2</tspan><tspan dy="-7.5"> (TPM+1)</tspan></text>
<line x1="170.00" y1="1126.25" x2="170.00" y2="1155.00" stroke="#000" stroke-width="2.95" stroke-linecap="butt"/>
<line x1="170.00" y1="1174.25" x2="170.00" y2="1204.50" stroke="#000" stroke-width="2.95" stroke-linecap="butt"/>
<rect x="146.55" y="1155.00" width="46.90" height="19.25" fill="#1F14EF" stroke="#000" stroke-width="2.95"/>
<line x1="146.55" y1="1164.25" x2="193.45" y2="1164.25" stroke="#000" stroke-width="5.8" stroke-linecap="butt"/>
<line x1="228.85" y1="1130.75" x2="228.85" y2="1159.50" stroke="#000" stroke-width="2.95" stroke-linecap="butt"/>
<line x1="228.85" y1="1178.50" x2="228.85" y2="1207.50" stroke="#000" stroke-width="2.95" stroke-linecap="butt"/>
<rect x="205.40" y="1159.50" width="46.90" height="19.00" fill="#F2240A" stroke="#000" stroke-width="2.95"/>
<line x1="205.40" y1="1165.00" x2="252.30" y2="1165.00" stroke="#000" stroke-width="5.8" stroke-linecap="butt"/>
<circle cx="228.85" cy="1121.80" r="2.65" fill="#000" fill-opacity="0.41"/>
<circle cx="228.85" cy="1125.20" r="2.65" fill="#000" fill-opacity="0.41"/>
<circle cx="228.85" cy="1126.90" r="2.65" fill="#000" fill-opacity="0.41"/>
<line x1="287.60" y1="1130.75" x2="287.60" y2="1162.50" stroke="#000" stroke-width="2.95" stroke-linecap="butt"/>
<line x1="287.60" y1="1188.50" x2="287.60" y2="1222.50" stroke="#000" stroke-width="2.95" stroke-linecap="butt"/>
<rect x="264.15" y="1162.50" width="46.90" height="26.00" fill="#1E9B50" stroke="#000" stroke-width="2.95"/>
<line x1="264.15" y1="1173.75" x2="311.05" y2="1173.75" stroke="#000" stroke-width="5.8" stroke-linecap="butt"/>
<circle cx="287.60" cy="1090.00" r="2.65" fill="#000" fill-opacity="0.41"/>
<circle cx="287.60" cy="1104.75" r="2.65" fill="#000" fill-opacity="0.41"/>
<circle cx="287.60" cy="1119.50" r="2.65" fill="#000" fill-opacity="0.41"/>
<line x1="346.35" y1="1112.50" x2="346.35" y2="1142.50" stroke="#000" stroke-width="2.95" stroke-linecap="butt"/>
<line x1="346.35" y1="1165.00" x2="346.35" y2="1186.75" stroke="#000" stroke-width="2.95" stroke-linecap="butt"/>
<rect x="322.90" y="1142.50" width="46.90" height="22.50" fill="#FFFFB0" stroke="#000" stroke-width="2.95"/>
<line x1="322.90" y1="1155.00" x2="369.80" y2="1155.00" stroke="#000" stroke-width="5.8" stroke-linecap="butt"/>
<circle cx="346.35" cy="1096.75" r="2.65" fill="#000" fill-opacity="0.41"/>
<circle cx="346.35" cy="1104.25" r="2.65" fill="#000" fill-opacity="0.41"/>
<path d="M169.80,1081.65 L169.80,1079.70 L287.60,1079.70 L287.60,1081.65" fill="none" stroke="#000" stroke-width="2.9" stroke-linejoin="round" stroke-linecap="round"/>
<text x="0" y="11.04" font-size="20.0" text-anchor="middle" stroke="#000" stroke-width="0.25" stroke-linejoin="round" letter-spacing="0.7" transform="translate(229.25,1073.20) scale(1,0.88)">***</text>
<path d="M169.80,1069.15 L169.80,1067.10 L346.20,1067.10 L346.20,1069.15" fill="none" stroke="#000" stroke-width="2.9" stroke-linejoin="round" stroke-linecap="round"/>
<text x="0" y="11.04" font-size="20.0" text-anchor="middle" stroke="#000" stroke-width="0.25" stroke-linejoin="round" letter-spacing="0.7" transform="translate(258.65,1061.80) scale(1,0.88)">***</text>
<path d="M228.60,1054.55 L228.60,1052.80 L287.60,1052.80 L287.60,1054.55" fill="none" stroke="#000" stroke-width="2.9" stroke-linejoin="round" stroke-linecap="round"/>
<text x="0" y="11.04" font-size="20.0" text-anchor="middle" stroke="#000" stroke-width="0.25" stroke-linejoin="round" letter-spacing="0.7" transform="translate(258.65,1046.50) scale(1,0.88)">*</text>
<path d="M228.60,1042.55 L228.60,1040.50 L346.20,1040.50 L346.20,1042.55" fill="none" stroke="#000" stroke-width="2.9" stroke-linejoin="round" stroke-linecap="round"/>
<text x="0" y="11.04" font-size="20.0" text-anchor="middle" stroke="#000" stroke-width="0.25" stroke-linejoin="round" letter-spacing="0.7" transform="translate(287.85,1035.20) scale(1,0.88)">***</text>
<path d="M287.30,1027.45 L287.30,1025.55 L346.20,1025.55 L346.20,1027.45" fill="none" stroke="#000" stroke-width="2.9" stroke-linejoin="round" stroke-linecap="round"/>
<text x="0" y="11.04" font-size="20.0" text-anchor="middle" stroke="#000" stroke-width="0.25" stroke-linejoin="round" letter-spacing="0.7" transform="translate(317.35,1016.20) scale(1,0.88)">***</text>
<text x="418.25" y="975.40" font-size="29.5" text-anchor="start" font-weight="bold">J</text>
<line x1="551.75" y1="1019.25" x2="551.75" y2="1317.00" stroke="#000" stroke-width="2.95" stroke-linecap="butt"/>
<line x1="551.75" y1="1317.00" x2="804.30" y2="1317.00" stroke="#000" stroke-width="2.95" stroke-linecap="butt"/>
<line x1="541.60" y1="1035.75" x2="551.75" y2="1035.75" stroke="#000" stroke-width="2.95" stroke-linecap="butt"/>
<text x="533.90" y="1043.65" font-size="21.9" text-anchor="end">7</text>
<line x1="541.60" y1="1082.50" x2="551.75" y2="1082.50" stroke="#000" stroke-width="2.95" stroke-linecap="butt"/>
<text x="533.90" y="1090.40" font-size="21.9" text-anchor="end">6</text>
<line x1="541.60" y1="1129.50" x2="551.75" y2="1129.50" stroke="#000" stroke-width="2.95" stroke-linecap="butt"/>
<text x="533.90" y="1137.40" font-size="21.9" text-anchor="end">5</text>
<line x1="541.60" y1="1176.50" x2="551.75" y2="1176.50" stroke="#000" stroke-width="2.95" stroke-linecap="butt"/>
<text x="533.90" y="1184.40" font-size="21.9" text-anchor="end">4</text>
<line x1="541.60" y1="1223.25" x2="551.75" y2="1223.25" stroke="#000" stroke-width="2.95" stroke-linecap="butt"/>
<text x="533.90" y="1231.15" font-size="21.9" text-anchor="end">3</text>
<line x1="541.60" y1="1270.00" x2="551.75" y2="1270.00" stroke="#000" stroke-width="2.95" stroke-linecap="butt"/>
<text x="533.90" y="1277.90" font-size="21.9" text-anchor="end">2</text>
<line x1="620.30" y1="1317.00" x2="620.30" y2="1327.40" stroke="#000" stroke-width="2.95" stroke-linecap="butt"/>
<line x1="735.10" y1="1317.00" x2="735.10" y2="1327.40" stroke="#000" stroke-width="2.95" stroke-linecap="butt"/>
<text x="620.30" y="1353.00" font-size="21.9" text-anchor="middle">Male</text>
<text x="735.10" y="1353.00" font-size="21.9" text-anchor="middle">Female</text>
<text x="678.02" y="1383.50" font-size="25.3" text-anchor="middle">Gender</text>
<text transform="translate(472.75,1168.80) rotate(-90)" x="0" y="0" font-size="25.3" text-anchor="middle">The expression of TGIF2</text>
<text transform="translate(496.70,1168.80) rotate(-90)" x="0" y="0" font-size="25.3" text-anchor="middle">Log<tspan font-size="21.5" dy="7.5">2</tspan><tspan dy="-7.5"> (TPM+1)</tspan></text>
<line x1="620.30" y1="1090.00" x2="620.30" y2="1158.75" stroke="#000" stroke-width="2.95" stroke-linecap="butt"/>
<line x1="620.30" y1="1210.00" x2="620.30" y2="1281.75" stroke="#000" stroke-width="2.95" stroke-linecap="butt"/>
<rect x="574.50" y="1158.75" width="91.60" height="51.25" fill="#1F14EF" stroke="#000" stroke-width="2.95"/>
<line x1="574.50" y1="1184.50" x2="666.10" y2="1184.50" stroke="#000" stroke-width="5.8" stroke-linecap="butt"/>
<circle cx="620.30" cy="1058.00" r="2.65" fill="#000" fill-opacity="0.41"/>
<circle cx="620.30" cy="1058.00" r="2.65" fill="#000" fill-opacity="0.41"/>
<circle cx="620.30" cy="1074.50" r="2.65" fill="#000" fill-opacity="0.41"/>
<circle cx="620.30" cy="1291.30" r="2.65" fill="#000" fill-opacity="0.41"/>
<circle cx="620.30" cy="1309.00" r="2.65" fill="#000" fill-opacity="0.41"/>
<line x1="735.10" y1="1083.75" x2="735.10" y2="1161.25" stroke="#000" stroke-width="2.95" stroke-linecap="butt"/>
<line x1="735.10" y1="1216.75" x2="735.10" y2="1297.50" stroke="#000" stroke-width="2.95" stroke-linecap="butt"/>
<rect x="689.30" y="1161.25" width="91.60" height="55.50" fill="#F2240A" stroke="#000" stroke-width="2.95"/>
<line x1="689.30" y1="1187.50" x2="780.90" y2="1187.50" stroke="#000" stroke-width="5.8" stroke-linecap="butt"/>
<circle cx="735.10" cy="1027.50" r="2.65" fill="#000" fill-opacity="0.41"/>
<circle cx="735.10" cy="1040.75" r="2.65" fill="#000" fill-opacity="0.41"/>
<path d="M620.30,1019.25 L620.30,1015.60 L735.10,1015.60 L735.10,1019.25" fill="none" stroke="#000" stroke-width="2.9" stroke-linejoin="round" stroke-linecap="round"/>
<text x="677.00" y="1008.55" font-size="21.6" text-anchor="middle">ns</text>
<text x="842.20" y="975.40" font-size="29.5" text-anchor="start" font-weight="bold">K</text>
<line x1="976.20" y1="1019.25" x2="976.20" y2="1194.60" stroke="#000" stroke-width="2.95" stroke-linecap="butt"/>
<line x1="976.20" y1="1194.60" x2="1228.80" y2="1194.60" stroke="#000" stroke-width="2.95" stroke-linecap="butt"/>
<line x1="966.00" y1="1028.25" x2="976.20" y2="1028.25" stroke="#000" stroke-width="2.95" stroke-linecap="butt"/>
<text x="958.30" y="1036.15" font-size="21.9" text-anchor="end">7</text>
<line x1="966.00" y1="1056.25" x2="976.20" y2="1056.25" stroke="#000" stroke-width="2.95" stroke-linecap="butt"/>
<text x="958.30" y="1064.15" font-size="21.9" text-anchor="end">6</text>
<line x1="966.00" y1="1084.00" x2="976.20" y2="1084.00" stroke="#000" stroke-width="2.95" stroke-linecap="butt"/>
<text x="958.30" y="1091.90" font-size="21.9" text-anchor="end">5</text>
<line x1="966.00" y1="1111.75" x2="976.20" y2="1111.75" stroke="#000" stroke-width="2.95" stroke-linecap="butt"/>
<text x="958.30" y="1119.65" font-size="21.9" text-anchor="end">4</text>
<line x1="966.00" y1="1139.25" x2="976.20" y2="1139.25" stroke="#000" stroke-width="2.95" stroke-linecap="butt"/>
<text x="958.30" y="1147.15" font-size="21.9" text-anchor="end">3</text>
<line x1="966.00" y1="1167.00" x2="976.20" y2="1167.00" stroke="#000" stroke-width="2.95" stroke-linecap="butt"/>
<text x="958.30" y="1174.90" font-size="21.9" text-anchor="end">2</text>
<line x1="1023.60" y1="1194.60" x2="1023.60" y2="1205.00" stroke="#000" stroke-width="2.95" stroke-linecap="butt"/>
<line x1="1102.30" y1="1194.60" x2="1102.30" y2="1205.00" stroke="#000" stroke-width="2.95" stroke-linecap="butt"/>
<line x1="1181.50" y1="1194.60" x2="1181.50" y2="1205.00" stroke="#000" stroke-width="2.95" stroke-linecap="butt"/>
<text x="0.00" y="0.00" font-size="21.8" text-anchor="end" transform="translate(1030.60,1226.30) rotate(-30)">Asian</text>
<text x="0.00" y="0.00" font-size="21.8" text-anchor="end" transform="translate(1109.30,1226.30) rotate(-30)">Black or African American</text>
<text x="0.00" y="0.00" font-size="21.8" text-anchor="end" transform="translate(1188.50,1226.30) rotate(-30)">White</text>
<text x="1102.50" y="1383.85" font-size="25.3" text-anchor="middle">Race</text>
<text transform="translate(893.55,1143.80) rotate(-90)" x="0" y="0" font-size="25.3" text-anchor="middle">The expression of TGIF2</text>
<text transform="translate(917.50,1143.80) rotate(-90)" x="0" y="0" font-size="25.3" text-anchor="middle">Log<tspan font-size="21.5" dy="7.5">2</tspan><tspan dy="-7.5"> (TPM+1)</tspan></text>
<line x1="1023.60" y1="1061.25" x2="1023.60" y2="1088.25" stroke="#000" stroke-width="2.95" stroke-linecap="butt"/>
<line x1="1023.60" y1="1142.25" x2="1023.60" y2="1183.00" stroke="#000" stroke-width="2.95" stroke-linecap="butt"/>
<rect x="992.05" y="1088.25" width="63.10" height="54.00" fill="#1F14EF" stroke="#000" stroke-width="2.95"/>
<line x1="992.05" y1="1121.25" x2="1055.15" y2="1121.25" stroke="#000" stroke-width="5.8" stroke-linecap="butt"/>
<line x1="1102.30" y1="1057.00" x2="1102.30" y2="1092.50" stroke="#000" stroke-width="2.95" stroke-linecap="butt"/>
<line x1="1102.30" y1="1136.75" x2="1102.30" y2="1189.50" stroke="#000" stroke-width="2.95" stroke-linecap="butt"/>
<rect x="1070.75" y="1092.50" width="63.10" height="44.25" fill="#F2240A" stroke="#000" stroke-width="2.95"/>
<line x1="1070.75" y1="1120.00" x2="1133.85" y2="1120.00" stroke="#000" stroke-width="5.8" stroke-linecap="butt"/>
<line x1="1181.50" y1="1060.70" x2="1181.50" y2="1102.95" stroke="#000" stroke-width="2.95" stroke-linecap="butt"/>
<line x1="1181.50" y1="1133.25" x2="1181.50" y2="1179.30" stroke="#000" stroke-width="2.95" stroke-linecap="butt"/>
<rect x="1149.95" y="1102.95" width="63.10" height="30.30" fill="#1E9B50" stroke="#000" stroke-width="2.95"/>
<line x1="1149.95" y1="1116.75" x2="1213.05" y2="1116.75" stroke="#000" stroke-width="5.8" stroke-linecap="butt"/>
<circle cx="1181.50" cy="1023.90" r="2.65" fill="#000" fill-opacity="0.41"/>
<circle cx="1181.50" cy="1032.00" r="2.65" fill="#000" fill-opacity="0.41"/>
<circle cx="1181.50" cy="1042.20" r="2.65" fill="#000" fill-opacity="0.41"/>
<circle cx="1181.50" cy="1042.20" r="2.65" fill="#000" fill-opacity="0.41"/>
<circle cx="1181.50" cy="1052.00" r="2.65" fill="#000" fill-opacity="0.41"/>
<path d="M1020.20,1046.35 L1020.20,1043.00 L1100.80,1043.00 L1100.80,1046.35" fill="none" stroke="#000" stroke-width="2.9" stroke-linejoin="round" stroke-linecap="round"/>
<text x="1059.80" y="1039.00" font-size="21.6" text-anchor="middle">ns</text>
<path d="M1020.20,1019.75 L1020.20,1016.70 L1182.10,1016.70 L1182.10,1019.75" fill="none" stroke="#000" stroke-width="2.9" stroke-linejoin="round" stroke-linecap="round"/>
<text x="1101.60" y="1012.50" font-size="21.6" text-anchor="middle">ns</text>
<path d="M1101.00,994.15 L1101.00,990.40 L1182.00,990.40 L1182.00,994.15" fill="none" stroke="#000" stroke-width="2.9" stroke-linejoin="round" stroke-linecap="round"/>
<text x="1139.70" y="985.75" font-size="21.6" text-anchor="middle">ns</text>
</svg>
</body></html>
